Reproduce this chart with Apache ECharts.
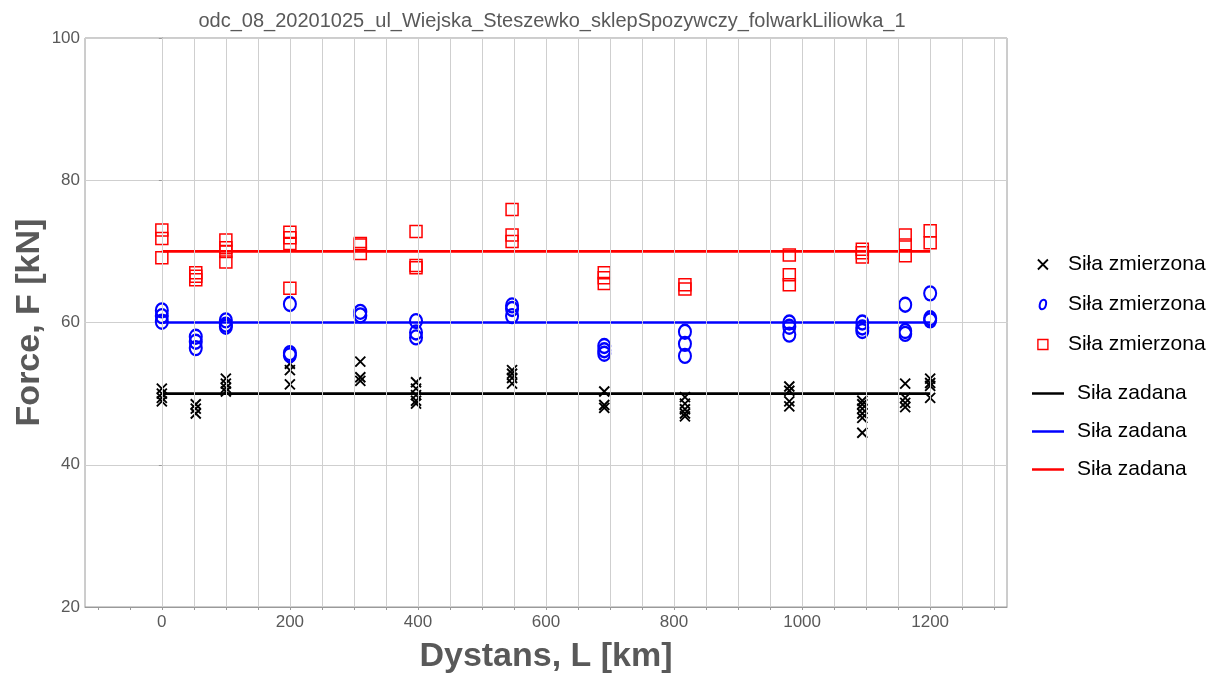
<!DOCTYPE html>
<html>
<head>
<meta charset="utf-8">
<title>Siła zmierzona / Siła zadana</title>
<script src="https://cdn.jsdelivr.net/npm/echarts@6/dist/echarts.min.js"></script>
<style>
  html, body { margin: 0; padding: 0; background: #ffffff; }
  #chart { width: 1223px; height: 674px; }
</style>
</head>
<body>
<div id="chart"></div>
<script>
// Measuring stations along the route, km
const stations = [0, 53, 100, 200, 310, 397, 547, 691, 817, 980, 1094, 1161, 1200];

// Measured forces at each station, kN (one inner list per station)
const measured50 = [
  [50.7, 50.0, 49.4, 48.9],
  [48.5, 47.9, 47.2],
  [52.1, 51.4, 50.8, 50.3],
  [54.2, 53.3, 51.3],
  [54.5, 52.3, 51.8],
  [51.6, 50.7, 49.8, 49.0, 48.6],
  [53.3, 52.8, 52.2, 51.4],
  [50.3, 48.4, 48.0],
  [49.5, 48.6, 47.8, 47.2, 46.8],
  [51.0, 50.4, 48.9, 48.2],
  [49.0, 48.5, 47.9, 47.2, 46.6, 44.5],
  [51.4, 49.4, 48.7, 48.1],
  [52.1, 51.5, 51.1, 49.4]
];
const measured60 = [
  [61.7, 60.9, 60.1],
  [58.0, 57.3, 56.4],
  [60.3, 59.7, 59.4],
  [62.6, 55.7, 55.4],
  [61.5, 61.0],
  [60.2, 58.6, 57.9],
  [62.4, 61.9, 60.9],
  [56.7, 56.1, 55.6],
  [58.7, 57.0, 55.3],
  [60.0, 59.4, 58.3],
  [60.0, 59.3, 58.8],
  [62.5, 58.8, 58.4],
  [64.1, 60.6, 60.3]
];
const measured70 = [
  [73.0, 71.8, 69.1],
  [67.0, 66.5, 66.0],
  [71.6, 70.5, 70.0, 68.5],
  [72.7, 71.9, 71.1, 64.8],
  [71.1, 70.9, 69.7],
  [72.8, 68.0, 67.7],
  [75.9, 72.3, 71.4],
  [67.0, 66.3, 65.5],
  [65.3, 64.7],
  [69.5, 66.7, 65.3],
  [70.3, 69.8, 69.2],
  [72.3, 70.9, 69.4],
  [72.9, 71.2]
];

// Set (target) force levels, kN, drawn over the route span
const targets = [50, 60, 70];
const targetSpan = [0, 1200];

// Axis ranges and tick values
const xRange = [-120, 1320];
const xLabelValues = [0, 200, 400, 600, 800, 1000, 1200];
const xTickValues = [-100, -50, 0, 50, 100, 150, 200, 250, 300, 350, 400, 450, 500, 550, 600,
  650, 700, 750, 800, 850, 900, 950, 1000, 1050, 1100, 1150, 1200, 1250, 1300];
const xGridValues = xTickValues.filter(v => v >= 0);
const yRange = [20, 100];
const yStep = 20;

// Texts
const titleText = 'odc_08_20201025_ul_Wiejska_Steszewko_sklepSpozywczy_folwarkLiliowka_1';
const xName = 'Dystans, L [km]';
const yName = 'Force, F [kN]';
const measuredLabel = 'Siła zmierzona';
const targetLabel = 'Siła zadana';

const colors = ['#000000', '#0000ff', '#ff0000'];

function toPoints(groups) {
  const pts = [];
  groups.forEach((vals, i) => vals.forEach(v => pts.push([stations[i], v])));
  return pts;
}

// Marker shapes
const crossPath = 'path://M0,0L10,10M10,0L0,10';
const squarePath = 'path://M0,0L10,0L10,10L0,10Z';
const slantedOPath = 'path://M6,0.5A3.4,5.6 18 1 1 4,11.5A3.4,5.6 18 1 1 6,0.5Z';
const linePath = 'path://M0,0L32,0L32,2.5L0,2.5Z';

const textGray = '#595959';
const fontFamily = '"Liberation Sans", Arial, sans-serif';

const chart = echarts.init(document.getElementById('chart'), null, { renderer: 'canvas' });

const option = {
  backgroundColor: '#ffffff',
  animation: false,
  title: {
    text: titleText,
    left: 547,
    textAlign: 'center',
    top: 6,
    textStyle: { color: textGray, fontSize: 20, fontWeight: 'normal', fontFamily: fontFamily }
  },
  grid: {
    left: 85, right: 216, top: 38, bottom: 67,
    containLabel: false, outerBoundsMode: 'none',
    show: true, borderColor: '#9a9a9a', borderWidth: 1, backgroundColor: 'transparent'
  },
  legend: [
    {
      orient: 'vertical', left: 1032, top: 249, itemGap: 19,
      itemWidth: 26, itemHeight: 10,
      data: [
        { name: 'm50', icon: crossPath, itemStyle: { color: 'transparent', borderColor: colors[0], borderWidth: 1.8 } },
        { name: 'm60', icon: slantedOPath, itemStyle: { color: 'transparent', borderColor: colors[1], borderWidth: 2 } },
        { name: 'm70', icon: squarePath, itemStyle: { color: 'transparent', borderColor: colors[2], borderWidth: 1.4 } }
      ],
      formatter: () => measuredLabel,
      textStyle: { color: '#000000', fontSize: 21, fontFamily: fontFamily, padding: [0, 0, 0, 7] },
      selectedMode: false
    },
    {
      orient: 'vertical', left: 1027, top: 378, itemGap: 17,
      itemWidth: 32, itemHeight: 20,
      data: [
        { name: 't50', icon: linePath, itemStyle: { color: colors[0], borderWidth: 0 } },
        { name: 't60', icon: linePath, itemStyle: { color: colors[1], borderWidth: 0 } },
        { name: 't70', icon: linePath, itemStyle: { color: colors[2], borderWidth: 0 } }
      ],
      formatter: () => targetLabel,
      textStyle: { color: '#000000', fontSize: 21, fontFamily: fontFamily, padding: [0, 0, 0, 8] },
      selectedMode: false
    }
  ],
  xAxis: {
    type: 'value',
    min: xRange[0], max: xRange[1],
    name: xName, nameLocation: 'middle', nameGap: 33, nameMoveOverlap: false,
    nameTextStyle: { color: textGray, fontSize: 34, fontWeight: 'bold', fontFamily: fontFamily },
    axisLine: { show: true, lineStyle: { color: '#9a9a9a', width: 1 } },
    axisTick: { show: true, customValues: xTickValues, length: 3, lineStyle: { color: '#9a9a9a' } },
    axisLabel: {
      customValues: xLabelValues, color: textGray, fontSize: 17, margin: 7, fontFamily: fontFamily,
      formatter: v => String(v)
    },
    splitLine: { show: false }
  },
  yAxis: {
    type: 'value',
    min: yRange[0], max: yRange[1], interval: yStep,
    name: yName, nameLocation: 'middle', nameGap: 38, nameMoveOverlap: false,
    nameTextStyle: { color: textGray, fontSize: 34, fontWeight: 'bold', fontFamily: fontFamily },
    axisLine: { show: true, lineStyle: { color: '#9a9a9a', width: 1 } },
    axisTick: { show: true, length: 3, lineStyle: { color: '#9a9a9a' } },
    axisLabel: { color: textGray, fontSize: 17, margin: 5, fontFamily: fontFamily, formatter: v => String(v) },
    splitLine: { show: true, lineStyle: { color: '#cfcfcf', width: 1 } }
  },
  series: [
    {
      // vertical grid every 50 km across the route
      name: 'grid', type: 'line', data: [], z: 0, silent: true,
      markLine: {
        silent: true, symbol: 'none', animation: false,
        label: { show: false },
        lineStyle: { color: '#cfcfcf', width: 1, type: 'solid' },
        data: xGridValues.map(v => ({ xAxis: v }))
      }
    },
    {
      name: 'm50', type: 'scatter', z: 3,
      symbol: crossPath, symbolSize: 10,
      itemStyle: { color: 'transparent', borderColor: colors[0], borderWidth: 1.9, opacity: 1 },
      data: toPoints(measured50)
    },
    {
      name: 'm60', type: 'scatter', z: 3,
      symbol: 'circle', symbolSize: [12, 14],
      itemStyle: { color: 'transparent', borderColor: colors[1], borderWidth: 2.2, opacity: 1 },
      data: toPoints(measured60)
    },
    {
      name: 'm70', type: 'scatter', z: 3,
      symbol: 'rect', symbolSize: 12,
      itemStyle: { color: 'transparent', borderColor: colors[2], borderWidth: 1.5, opacity: 1 },
      data: toPoints(measured70)
    }
  ].concat(targets.map((t, i) => ({
    name: 't' + t, type: 'line', z: 2,
    symbol: 'none', showSymbol: false,
    lineStyle: { color: colors[i], width: 2.6 },
    itemStyle: { color: colors[i] },
    data: targetSpan.map(x => [x, t])
  })))
};

chart.setOption(option);
</script>
</body>
</html>
